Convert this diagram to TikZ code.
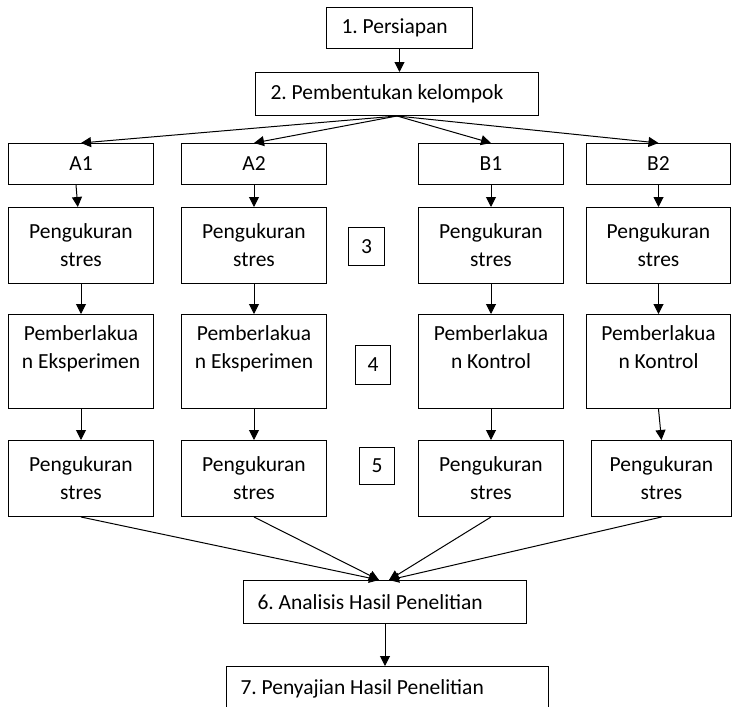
\documentclass[tikz,border=0pt]{standalone}
\usepackage{fontspec}
\setmainfont{Carlito}
\usetikzlibrary{arrows.meta,positioning}

\begin{document}
\begin{tikzpicture}[x=1pt,y=-1pt,->,>={Triangle[length=10pt,width=10pt]},line width=1pt,
	font=\fontsize{21.5}{28}\selectfont\frenchspacing,
	tahap/.style={rectangle,draw,inner sep=0pt,inner xsep=15pt,align=flush left,
		minimum height=41pt},
	grup/.style={rectangle,draw,inner sep=0pt,align=center,
		minimum width=145pt,minimum height=41pt},
	isi/.style={grup,minimum height=76pt},
	nomor/.style={rectangle,draw,inner sep=0pt,minimum width=35pt,minimum height=38pt}]

	\useasboundingbox (0,0) rectangle (732,707);

	\node[tahap,text width=116pt,anchor=north west] (T1) at (326,7) {1. Persiapan};
	\node[tahap,text width=253pt,minimum height=43pt,anchor=north west] (T2) at (255,72) {2. Pembentukan kelompok};

	\node[grup,anchor=north west] (A1) at (8,143) {A1};
	\node[grup,anchor=north west] (A2) at (181,143) {A2};
	\node[grup,anchor=north west] (B1) at (418,143) {B1};
	\node[grup,minimum width=144pt,anchor=north west] (B2) at (586,143) {B2};

	\node[isi] (A1s) [below = 22pt of A1] {Pengukuran\\stres};
	\node[isi] (A2s) [below = 22pt of A2] {Pengukuran\\stres};
	\node[isi] (B1s) [below = 22pt of B1] {Pengukuran\\stres};
	\node[isi,minimum width=144pt] (B2s) [below = 22pt of B2] {Pengukuran\\stres};

	\node[isi,minimum height=94pt] (A1e) [below = 30pt of A1s] {Pemberlakua\\n Eksperimen\\~};
	\node[isi,minimum height=94pt] (A2e) [below = 30pt of A2s] {Pemberlakua\\n Eksperimen\\~};
	\node[isi,minimum height=94pt] (B1e) [below = 30pt of B1s] {Pemberlakua\\n Kontrol\\~};
	\node[isi,minimum width=144pt,minimum height=94pt] (B2e) [below = 30pt of B2s] {Pemberlakua\\n Kontrol\\~};

	\node[isi] (A1t) [below = 31pt of A1e] {Pengukuran\\stres};
	\node[isi] (A2t) [below = 31pt of A2e] {Pengukuran\\stres};
	\node[isi] (B1t) [below = 31pt of B1e] {Pengukuran\\stres};
	\node[isi,minimum width=140pt] (B2t) [below = 31pt of B2e, xshift=3pt] {Pengukuran\\stres};

	\node[nomor,minimum width=36pt,anchor=north west] (N3) at (348,227) {3};
	\node[nomor,minimum height=39pt,anchor=north west] (N4) at (355,345) {4};
	\node[nomor,minimum height=37pt,anchor=north west] (N5) at (359,447) {5};

	\node[tahap,text width=255pt,minimum height=43pt,inner xsep=14pt,anchor=north west] (T6) at (243,580) {6. Analisis Hasil Penelitian};
	\node[tahap,text width=294pt,minimum height=44pt,inner xsep=14pt,anchor=north west] (T7) at (226,666) {7. Penyajian Hasil Penelitian};

	\path
	(T1.south) edge (T1.south |- T2.north)
	(T2.south) edge (A1.north)
	(T2.south) edge (A2.north)
	(T2.south) edge (B1.north)
	(T2.south) edge (B2.north);

	\path
	([xshift=-5pt]A1.south) edge (A1s) (A1s) edge (A1e) (A1e) edge (A1t)
	(A2) edge (A2s) (A2s) edge (A2e) (A2e) edge (A2t)
	(B1) edge (B1s) (B1s) edge (B1e) (B1e) edge (B1t)
	(B2) edge (B2s) (B2s) edge (B2e) (B2e.south) edge (B2t.north);

	\path
	(A1t.south) edge ([xshift=-6pt]T6.north)
	(A2t.south) edge ([xshift=-6pt]T6.north)
	(B1t.south) edge ([xshift=4pt]T6.north)
	(B2t.south) edge ([xshift=4pt]T6.north)
	(T6.south) edge (T6.south |- T7.north);

\end{tikzpicture}
\end{document}
